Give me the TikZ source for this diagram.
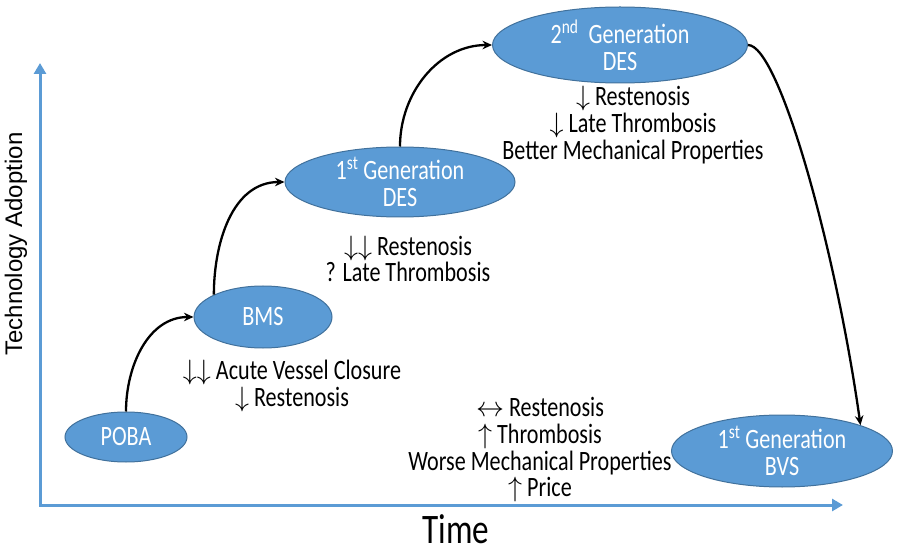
\RequirePackage{fix-cm}
\documentclass[tikz,border=0pt]{standalone}
\usepackage{fontspec}
\setmainfont{Carlito}[FakeStretch=0.79]
\newfontfamily\arialf{Liberation Sans}
\usetikzlibrary{arrows.meta,shapes.geometric}
\definecolor{nodeblue}{HTML}{5B9BD5}
\definecolor{nodeedge}{HTML}{41719C}
\begin{document}
\begin{tikzpicture}[x=1pt,y=1pt,
  stage/.style={ellipse, fill=nodeblue, draw=nodeedge, line width=1pt, inner sep=0pt,
    text=white, align=center, font=\fontsize{28}{26.7}\selectfont},
  desc/.style={align=center, inner sep=0pt, font=\fontsize{28}{26.7}\selectfont},
  flow/.style={line width=2.3pt, -{Stealth[length=9.5pt,width=8.5pt]}},
  axis/.style={draw=nodeblue, line width=3pt, {Triangle[length=11pt,width=12pt]}-{Triangle[length=11pt,width=12pt]}}]
\useasboundingbox (0,0) rectangle (900,-548);
% axes
\coordinate (origin) at (40,-505);
\coordinate (ytip) at (40,-63);
\coordinate (xtip) at (843,-505);
\draw[axis] (ytip) -- (origin) -- (xtip);
\node[font=\arialf\fontsize{24}{28}\selectfont, rotate=90, anchor=base] (ylab) at (22,-244) {Technology Adoption};
\node[font=\fontsize{42}{50}\selectfont, anchor=base] (xlab) at (456,-543) {Time};
% stages
\node[stage, minimum width=122pt, minimum height=50pt] (poba) at (126,-437) {POBA};
\node[stage, minimum width=138pt, minimum height=62pt] (bms) at (263,-317) {BMS};
\node[stage, minimum width=230pt, minimum height=70pt] (des1) at (400,-182) {1\textsuperscript{st} Generation\\DES};
\node[stage, minimum width=255pt, minimum height=76pt] (des2) at (620,-45) {2\textsuperscript{nd}\ \ Generation\\DES};
\node[stage, minimum width=221pt, minimum height=72pt] (bvs) at (782,-451) {1\textsuperscript{st} Generation\\BVS};
% descriptions
\node[desc] (tbms) at (292,-386) {$\downarrow\downarrow$ Acute Vessel Closure\\$\downarrow$ Restenosis};
\node[desc] (tdes1) at (408,-259) {$\downarrow\downarrow$ Restenosis\\? Late Thrombosis};
\node[desc] (tdes2) at (633,-125) {$\downarrow$ Restenosis\\$\downarrow$ Late Thrombosis\\Better Mechanical Properties};
\node[desc] (tbvs) at (540,-450) {$\leftrightarrow$ Restenosis\\$\uparrow$ Thrombosis\\Worse Mechanical Properties\\$\uparrow$ Price};
% connectors
\draw[flow] (poba.north) to[out=90,in=180] (bms.west);
\draw[flow] (bms.north west) to[out=90,in=180] (des1.west);
\draw[flow] (des1.north) to[out=90,in=180] (des2.west);
\draw[flow] (des2.east) to[out=0,in=98,out looseness=0.2,in looseness=1.15] (bvs.north east);
\end{tikzpicture}
\end{document}
